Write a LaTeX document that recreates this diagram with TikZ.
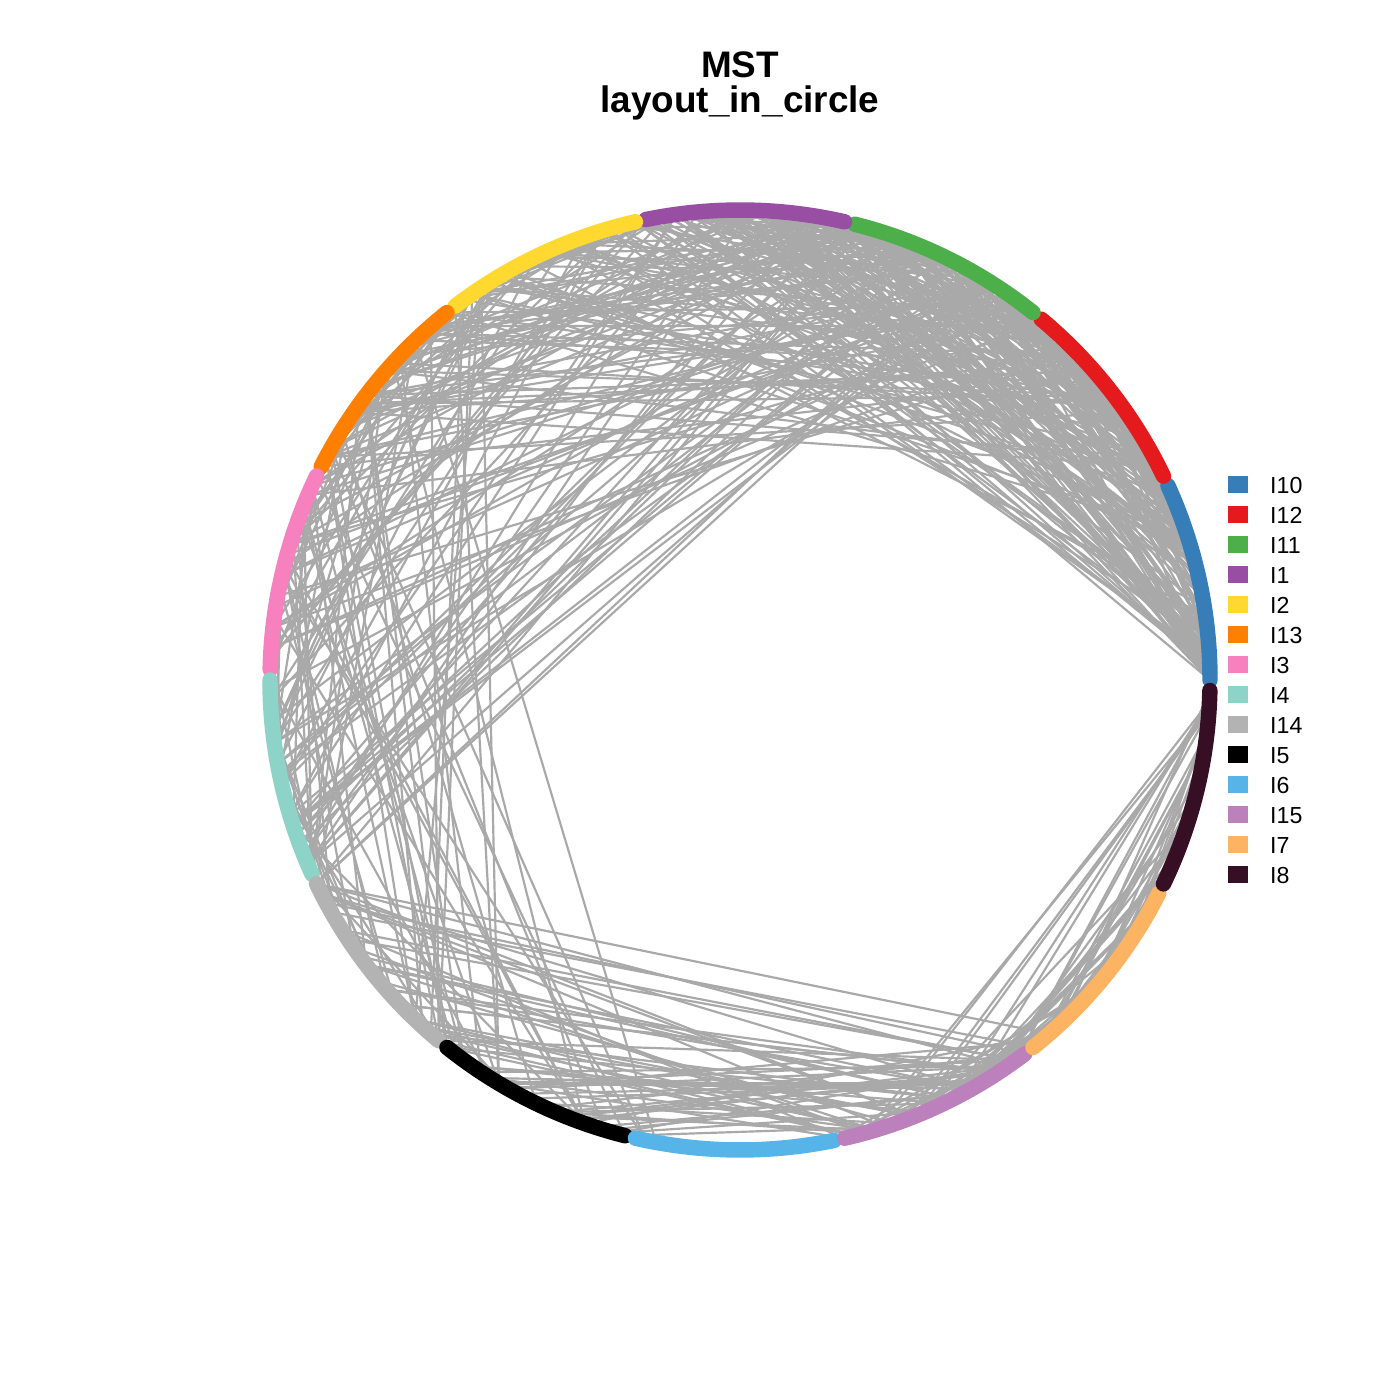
\documentclass[tikz,border=0pt]{standalone}
\usepackage{fontspec}
\setmainfont{Liberation Sans}
\definecolor{cI10}{HTML}{377EB8}
\definecolor{cI12}{HTML}{E41A1C}
\definecolor{cI11}{HTML}{4DAF4A}
\definecolor{cI1}{HTML}{984EA3}
\definecolor{cI2}{HTML}{FFD92F}
\definecolor{cI13}{HTML}{FF7F00}
\definecolor{cI3}{HTML}{F781BF}
\definecolor{cI4}{HTML}{8DD3C7}
\definecolor{cI14}{HTML}{B3B3B3}
\definecolor{cI5}{HTML}{000000}
\definecolor{cI6}{HTML}{56B4E9}
\definecolor{cI15}{HTML}{BC80BD}
\definecolor{cI7}{HTML}{FDB462}
\definecolor{cI8}{HTML}{360F24}
\definecolor{edgegray}{HTML}{A9A9A9}
% #1 count, #2-#3 range a, #4-#5 range b, #6 dmin, #7 dmax, #8 clearance of the empty zone
\newcommand\edgeset[8]{%
  \foreach \k in {1,...,#1}{%
    \pgfmathrandominteger{\eA}{#2}{#3}%
    \pgfmathrandominteger{\eB}{#4}{#5}%
    \pgfmathtruncatemacro\eOK{and(and(abs(\eB-\eA)>=#6,abs(\eB-\eA)<=#7),470*cos(abs(\eB-\eA)*9/14)-130*cos((\eA+\eB)*9/14)>=#8)}%
    \ifnum\eOK=1 \draw[edge] (v\eA) -- (v\eB);\fi
  }%
}
\begin{document}
\begin{tikzpicture}[x=1cm,y=1cm,
  edge/.style={draw=edgegray, line width=0.62pt},
  grp/.style={line width=4.4pt, line cap=round},
  legbox/.style={minimum width=0.2cm, minimum height=0.17cm, inner sep=0pt, outer sep=0pt},
  leglab/.style={anchor=base west, inner sep=0pt, font=\fontsize{6.6}{7}\selectfont},
  titletext/.style={align=center, inner sep=0pt, font=\bfseries\fontsize{10.5}{12}\selectfont}]
\useasboundingbox (0,0) rectangle (14,14);
\coordinate (C) at (7.4,7.2);
\foreach \i in {0,...,279} \path (C) ++(\i*9/7:4.7) coordinate (v\i);
\pgfmathsetseed{2024}
% upper cluster
\edgeset{270}{0}{60}{30}{160}{8}{140}{212}
\edgeset{55}{55}{100}{95}{160}{10}{105}{212}
\edgeset{120}{0}{45}{25}{80}{8}{70}{212}
\edgeset{25}{1}{3}{40}{85}{30}{90}{205}
\edgeset{30}{95}{140}{120}{160}{12}{60}{212}
% left to bottom
\edgeset{34}{95}{135}{168}{202}{55}{105}{-999}
\edgeset{22}{115}{160}{158}{195}{20}{80}{-999}
% bottom
\edgeset{60}{160}{200}{220}{242}{25}{85}{-999}
\edgeset{40}{225}{262}{258}{279}{8}{45}{-999}
\edgeset{30}{218}{250}{232}{262}{8}{30}{-999}
\edgeset{8}{277}{279}{222}{245}{30}{60}{-999}
% group arcs
\foreach \g/\c [count=\n from 0] in {I10/cI10,I12/cI12,I11/cI11,I1/cI1,I2/cI2,I13/cI13,I3/cI3,I4/cI4,I14/cI14,I5/cI5,I6/cI6,I15/cI15,I7/cI7,I8/cI8}{
  \pgfmathsetmacro\sa{20*\n*9/7}
  \pgfmathsetmacro\ea{(20*\n+19)*9/7}
  \draw[grp, draw=\c] (C) ++(\sa:4.7) arc[start angle=\sa, end angle=\ea, radius=4.7];
}
% legend
\foreach \g/\c [count=\n from 0] in {I10/cI10,I12/cI12,I11/cI11,I1/cI1,I2/cI2,I13/cI13,I3/cI3,I4/cI4,I14/cI14,I5/cI5,I6/cI6,I15/cI15,I7/cI7,I8/cI8}{
  \node[legbox, fill=\c] (box\g) at (12.38, 9.15-0.3*\n) {};
  \node[leglab] (lab\g) at (12.695, 9.06-0.3*\n) {\g};
}
% title
\node[titletext, anchor=base] (t1) at (7.40, 13.22) {MST};
\node[titletext, anchor=base] (t2) at (7.40, 12.87) {layout\_in\_circle};
\end{tikzpicture}
\end{document}
